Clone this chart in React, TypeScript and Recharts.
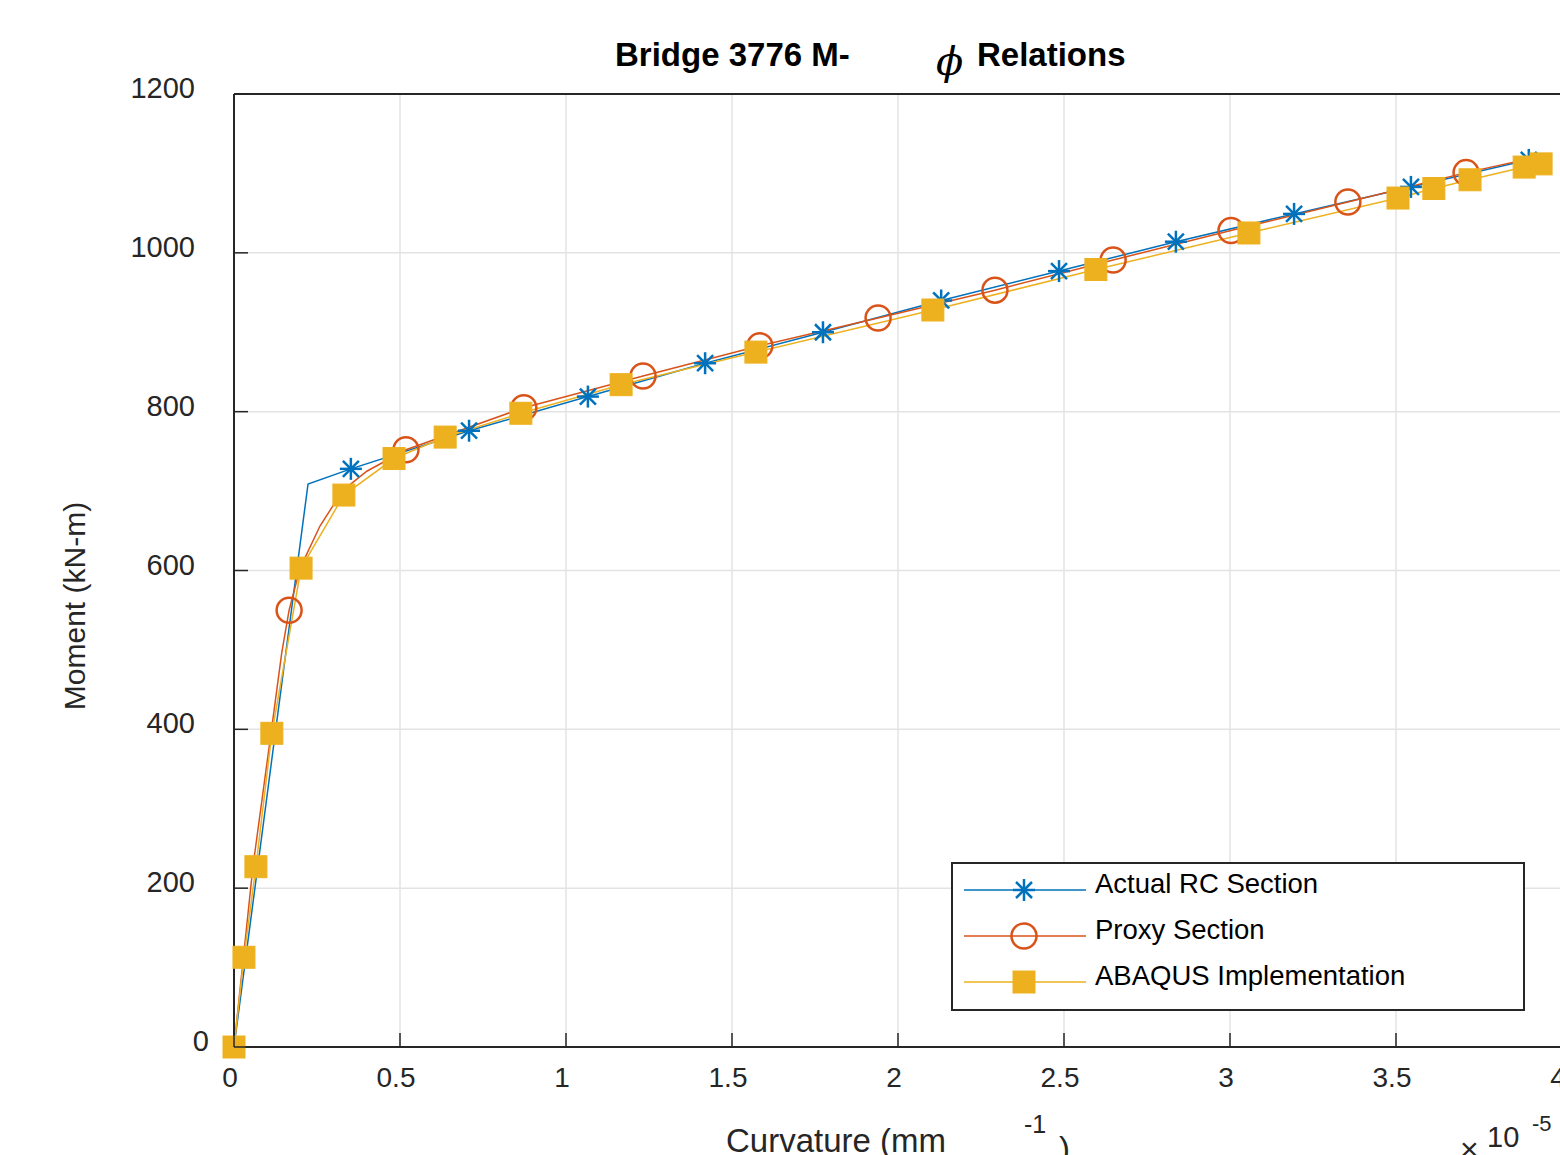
import React from 'react';
import { LineChart, Line, XAxis, YAxis, CartesianGrid, Legend } from 'recharts';

// curvature in 1e-5 /mm, moment in kN-m
const xTicks = [0, 0.5, 1, 1.5, 2, 2.5, 3, 3.5, 4];
const yTicks = [0, 200, 400, 600, 800, 1000, 1200];

const actualCurv = [0, 0.223, 0.352, 0.708, 1.066, 1.419, 1.774, 2.13, 2.485, 2.837, 3.193, 3.545, 3.9];
const actualMoment = [0, 709, 728, 776, 819, 861, 900, 940, 977, 1014, 1049, 1083, 1117];
const actualMarked = [1, 0, 1, 1, 1, 1, 1, 1, 1, 1, 1, 1, 1];

const proxyCurv = [0, 0.057, 0.113, 0.144, 0.166, 0.199, 0.259, 0.328, 0.4, 0.518, 0.873, 1.232, 1.584, 1.94, 2.292, 2.648, 3.003, 3.355, 3.711, 3.93];
const proxyMoment = [0, 227, 400, 497, 550, 603, 656, 701, 725, 752, 805, 845, 883, 918, 953, 991, 1028, 1064, 1101, 1121];
const proxyMarked = [0, 0, 0, 0, 1, 0, 0, 0, 0, 1, 1, 1, 1, 1, 1, 1, 1, 1, 1, 0];

const abaqusCurv = [0, 0.03, 0.066, 0.114, 0.202, 0.331, 0.482, 0.636, 0.864, 1.166, 1.572, 2.105, 2.596, 3.057, 3.506, 3.614, 3.723, 3.886, 3.937];
const abaqusMoment = [0, 113, 227, 395, 603, 695, 741, 768, 798, 834, 875, 928, 979, 1025, 1069, 1081, 1092, 1108, 1112];

const seriesNames = ['Actual RC Section', 'Proxy Section', 'ABAQUS Implementation'];
const seriesColors = ['#0072BD', '#D95319', '#EDB120'];

const FONT = '"Liberation Sans", Arial, Helvetica, sans-serif';
const AXIS = '#262626';

type Pt = { x: number; m: number; mark: boolean };

function toPoints(xs: number[], ys: number[], marks?: number[]): Pt[] {
  return xs.map((x, i) => ({ x, m: ys[i], mark: marks ? marks[i] === 1 : true }));
}

const actualData = toPoints(actualCurv, actualMoment, actualMarked);
const proxyData = toPoints(proxyCurv, proxyMoment, proxyMarked);
const abaqusData = toPoints(abaqusCurv, abaqusMoment);

function Marker({ kind, cx, cy, color }: { kind: number; cx: number; cy: number; color: string }) {
  if (kind === 0) {
    const r = 11;
    const d = 8;
    return (
      <g stroke={color} strokeWidth={2.5}>
        <line x1={cx - r} y1={cy} x2={cx + r} y2={cy} />
        <line x1={cx} y1={cy - r} x2={cx} y2={cy + r} />
        <line x1={cx - d} y1={cy - d} x2={cx + d} y2={cy + d} />
        <line x1={cx - d} y1={cy + d} x2={cx + d} y2={cy - d} />
      </g>
    );
  }
  if (kind === 1) {
    return <circle cx={cx} cy={cy} r={12.5} fill="none" stroke={color} strokeWidth={2.5} />;
  }
  return <rect x={cx - 11} y={cy - 11} width={22} height={22} fill={color} stroke={color} strokeWidth={1} />;
}

const dotFor = (kind: number) => (props: any) => {
  const { cx, cy, payload, index } = props;
  if (!payload || !payload.mark || cx == null || cy == null) return <g key={`e-${kind}-${index}`} />;
  return (
    <g key={`d-${kind}-${index}`}>
      <Marker kind={kind} cx={cx} cy={cy} color={seriesColors[kind]} />
    </g>
  );
};

const BottomTick = (props: any) => {
  const { x, y, payload } = props;
  return (
    <g>
      <line x1={x} x2={x} y1={y} y2={y - 14} stroke={AXIS} strokeWidth={1.5} />
      <text x={x - 4} y={y + 40} textAnchor="middle" fontSize={28} fill={AXIS} fontFamily={FONT}>
        {payload.value}
      </text>
    </g>
  );
};

const TopTick = (props: any) => {
  const { x, y } = props;
  return <line x1={x} x2={x} y1={y} y2={y + 14} stroke={AXIS} strokeWidth={1.5} />;
};

const LeftTick = (props: any) => {
  const { x, y, payload } = props;
  // the zero label sits a bit further right in the original export
  const right = payload.value === 0 ? x - 25 : x - 39;
  return (
    <g>
      <line x1={x} x2={x + 14} y1={y} y2={y} stroke={AXIS} strokeWidth={1.5} />
      <text x={right} y={y + 4} textAnchor="end" fontSize={29} fill={AXIS} fontFamily={FONT}>
        {payload.value}
      </text>
    </g>
  );
};

const RightTick = (props: any) => {
  const { x, y } = props;
  return <line x1={x} x2={x - 14} y1={y} y2={y} stroke={AXIS} strokeWidth={1.5} />;
};

function LegendBox() {
  const rows = [28, 74, 120];
  return (
    <svg width={574} height={149} style={{ display: 'block' }}>
      <rect x={1} y={1} width={572} height={147} fill="#fff" stroke={AXIS} strokeWidth={2} />
      {seriesNames.map((name, i) => (
        <g key={name}>
          <line x1={13} x2={135} y1={rows[i]} y2={rows[i]} stroke={seriesColors[i]} strokeWidth={1.5} />
          <Marker kind={i} cx={73} cy={rows[i]} color={seriesColors[i]} />
          <text x={144} y={rows[i] + 3} fontSize={27.5} fill="#000" fontFamily={FONT}>
            {name}
          </text>
        </g>
      ))}
    </svg>
  );
}

export default function App() {
  return (
    <div style={{ position: 'absolute', left: 0, top: 0, width: 1560, height: 1155, overflow: 'hidden', background: '#fff' }}>
      <LineChart width={1600} height={1155} margin={{ top: 93, right: 37, bottom: 107, left: 233 }}>
        <CartesianGrid stroke="#e3e3e3" strokeWidth={1.5} />
        <XAxis
          xAxisId={0}
          dataKey="x"
          type="number"
          domain={[0, 4]}
          ticks={xTicks}
          interval={0}
          height={1}
          tickSize={0}
          tickMargin={0}
          tickLine={false}
          tick={BottomTick}
          axisLine={{ stroke: AXIS, strokeWidth: 2 }}
        />
        <XAxis
          xAxisId="top"
          orientation="top"
          dataKey="x"
          type="number"
          domain={[0, 4]}
          ticks={xTicks}
          interval={0}
          height={1}
          tickSize={0}
          tickMargin={0}
          tickLine={false}
          tick={TopTick}
          axisLine={{ stroke: AXIS, strokeWidth: 2 }}
        />
        <YAxis
          yAxisId={0}
          type="number"
          domain={[0, 1200]}
          ticks={yTicks}
          interval={0}
          width={1}
          tickSize={0}
          tickMargin={0}
          tickLine={false}
          tick={LeftTick}
          axisLine={{ stroke: AXIS, strokeWidth: 2 }}
        />
        <YAxis
          yAxisId="right"
          orientation="right"
          type="number"
          domain={[0, 1200]}
          ticks={yTicks}
          interval={0}
          width={1}
          tickSize={0}
          tickMargin={0}
          tickLine={false}
          tick={RightTick}
          axisLine={{ stroke: AXIS, strokeWidth: 2 }}
        />
        <Line
          xAxisId={0}
          yAxisId={0}
          data={actualData}
          dataKey="m"
          type="linear"
          stroke={seriesColors[0]}
          strokeWidth={1.5}
          dot={dotFor(0)}
          activeDot={false}
          isAnimationActive={false}
        />
        <Line
          xAxisId={0}
          yAxisId={0}
          data={proxyData}
          dataKey="m"
          type="linear"
          stroke={seriesColors[1]}
          strokeWidth={1.5}
          dot={dotFor(1)}
          activeDot={false}
          isAnimationActive={false}
        />
        <Line
          xAxisId={0}
          yAxisId={0}
          data={abaqusData}
          dataKey="m"
          type="linear"
          stroke={seriesColors[2]}
          strokeWidth={1.5}
          dot={dotFor(2)}
          activeDot={false}
          isAnimationActive={false}
        />
        <Legend
          layout="horizontal"
          align="center"
          verticalAlign="middle"
          content={() => <LegendBox />}
          wrapperStyle={{ position: 'absolute', left: 951, top: 862, width: 574, height: 149 }}
        />
      </LineChart>
      <svg
        width={1560}
        height={1155}
        style={{ position: 'absolute', left: 0, top: 0, pointerEvents: 'none' }}
        fontFamily={FONT}
        fill="#000"
      >
        <text x={615} y={66} fontSize={33} fontWeight="bold">Bridge 3776 M-</text>
        <text x={936} y={75} fontSize={40} fontStyle="italic" fontFamily='"DejaVu Serif", "Liberation Serif", serif'>ϕ</text>
        <text x={977} y={66} fontSize={33} fontWeight="bold">Relations</text>
        <text x={85} y={606} fontSize={30} fill={AXIS} textAnchor="middle" transform="rotate(-90 85 606)">
          Moment (kN-m)
        </text>
        <text x={726} y={1152} fontSize={33} fill={AXIS}>Curvature (mm</text>
        <text x={1024} y={1133} fontSize={25} fill={AXIS}>-1</text>
        <text x={1059} y={1160} fontSize={33} fill={AXIS}>)</text>
        <text x={1460} y={1160} fontSize={32} fill={AXIS}>×</text>
        <text x={1487} y={1147} fontSize={29} fill={AXIS}>10</text>
        <text x={1532} y={1131} fontSize={22} fill={AXIS}>-5</text>
      </svg>
    </div>
  );
}
